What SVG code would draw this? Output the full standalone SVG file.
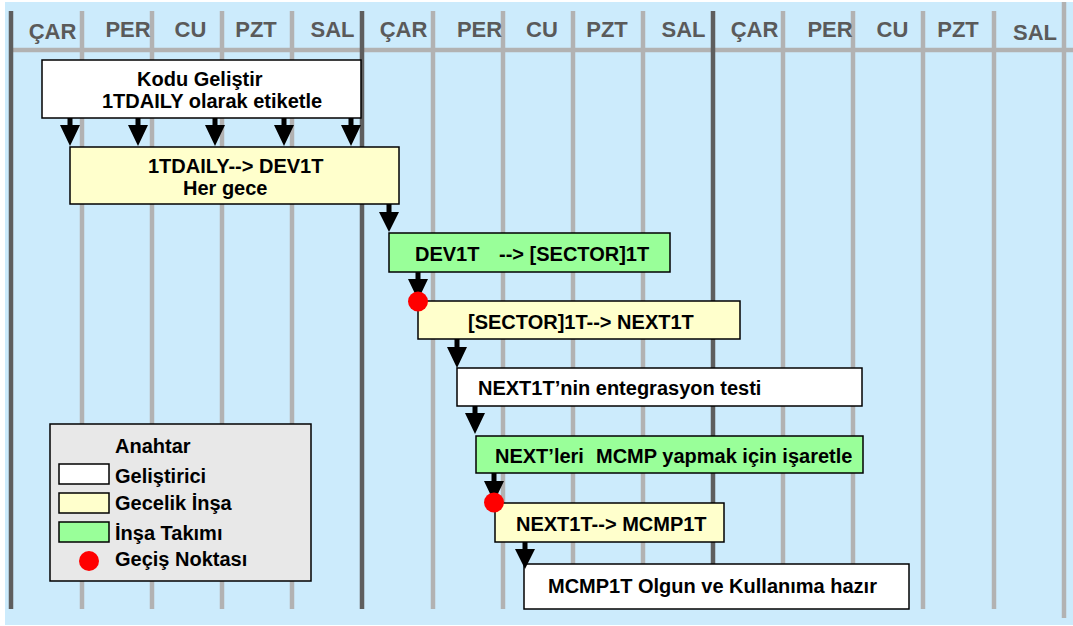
<svg xmlns="http://www.w3.org/2000/svg" width="1073" height="626" viewBox="0 0 1073 626">
<style>
.bg{fill:#CCEBFC}
.dk{stroke:#5E5E5E;stroke-width:4.5;fill:none}
.gr{stroke:#B2B2B2;stroke-width:4.5;fill:none}
.hd{font-family:"Liberation Sans",Arial,sans-serif;font-weight:bold;font-size:22px;fill:#5A5A5A;text-anchor:middle}
.t{font-family:"Liberation Sans",Arial,sans-serif;font-weight:bold;font-size:20px;fill:#000}
.box{stroke:#000;stroke-width:1.5}
.w{fill:#FFFFFF}
.y{fill:#FFFFCC}
.g{fill:#99FF99}
.lg{fill:#E8E8E8}
.dot{fill:#FF0000}
.arr{fill:#000}
</style>
<rect class="bg" x="5" y="2" width="1068" height="623"/>
<g id="grid">
<line class="gr" x1="13" y1="50" x2="1073" y2="50"/>
<line class="dk" x1="11" y1="11" x2="11" y2="609"/>
<line class="dk" x1="362" y1="11" x2="362" y2="609"/>
<line class="dk" x1="713" y1="11" x2="713" y2="609"/>
<line class="gr" x1="82" y1="11" x2="82" y2="609"/>
<line class="gr" x1="152" y1="11" x2="152" y2="609"/>
<line class="gr" x1="222" y1="11" x2="222" y2="609"/>
<line class="gr" x1="292" y1="11" x2="292" y2="609"/>
<line class="gr" x1="433" y1="11" x2="433" y2="609"/>
<line class="gr" x1="503" y1="11" x2="503" y2="609"/>
<line class="gr" x1="573" y1="11" x2="573" y2="609"/>
<line class="gr" x1="643" y1="11" x2="643" y2="609"/>
<line class="gr" x1="783" y1="11" x2="783" y2="609"/>
<line class="gr" x1="853" y1="11" x2="853" y2="609"/>
<line class="gr" x1="923" y1="11" x2="923" y2="609"/>
<line class="gr" x1="994" y1="11" x2="994" y2="609"/>
<line class="gr" x1="1064" y1="2" x2="1064" y2="618"/>
</g>
<g id="days">
<text class="hd" x="52.5" y="39">ÇAR</text>
<text class="hd" x="128" y="37">PER</text>
<text class="hd" x="190.5" y="37">CU</text>
<text class="hd" x="256" y="37">PZT</text>
<text class="hd" x="332.5" y="37">SAL</text>
<text class="hd" x="403.5" y="37">ÇAR</text>
<text class="hd" x="479.5" y="37">PER</text>
<text class="hd" x="542" y="37">CU</text>
<text class="hd" x="607" y="37">PZT</text>
<text class="hd" x="683.5" y="37">SAL</text>
<text class="hd" x="754.5" y="37">ÇAR</text>
<text class="hd" x="830" y="37">PER</text>
<text class="hd" x="892.5" y="37">CU</text>
<text class="hd" x="958" y="37">PZT</text>
<text class="hd" x="1035" y="40">SAL</text>
</g>
<g id="n1">
<rect class="box w" x="42" y="60" width="319" height="58"/>
<text class="t" x="137" y="86">Kodu Geliştir</text>
<text class="t" x="102" y="108">1TDAILY olarak etiketle</text>
</g>
<g id="n2">
<rect class="box y" x="70" y="147" width="329" height="57"/>
<text class="t" x="148" y="173">1TDAILY--&gt; DEV1T</text>
<text class="t" x="183" y="195">Her gece</text>
</g>
<g id="n3">
<rect class="box g" x="389" y="233" width="281" height="39"/>
<text class="t" x="415" y="261">DEV1T</text>
<text class="t" x="499" y="261">--&gt; [SECTOR]1T</text>
</g>
<g id="n4">
<rect class="box y" x="418" y="301" width="322" height="38"/>
<text class="t" x="468" y="329">[SECTOR]1T--&gt; NEXT1T</text>
</g>
<g id="n5">
<rect class="box w" x="457" y="368" width="405" height="38"/>
<text class="t" x="478" y="395">NEXT1T’nin entegrasyon testi</text>
</g>
<g id="n6">
<rect class="box g" x="476" y="436" width="387" height="37"/>
<text class="t" x="495" y="463">NEXT’leri</text>
<text class="t" x="596" y="463">MCMP yapmak için işaretle</text>
</g>
<g id="n7">
<rect class="box y" x="495" y="503" width="229" height="39"/>
<text class="t" x="516" y="531">NEXT1T--&gt; MCMP1T</text>
</g>
<g id="n8">
<rect class="box w" x="524" y="564" width="385" height="45"/>
<text class="t" x="548" y="593">MCMP1T Olgun ve Kullanıma hazır</text>
</g>
<g id="connectors">
<path class="arr" d="M67.5 118h5v7h7.5l-10 21l-10-21h7.5z"/>
<path class="arr" d="M135.5 118h5v7h7.5l-10 21l-10-21h7.5z"/>
<path class="arr" d="M212.5 118h5v7h7.5l-10 21l-10-21h7.5z"/>
<path class="arr" d="M281.5 118h5v7h7.5l-10 21l-10-21h7.5z"/>
<path class="arr" d="M348.5 118h5v7h7.5l-10 21l-10-21h7.5z"/>
<path class="arr" d="M386.5 204h5v8h7.5l-10 20l-10-20h7.5z"/>
<path class="arr" d="M415.5 272h5v7h7.5l-10 21l-10-21h7.5z"/>
<path class="arr" d="M454.5 339h5v8h7.5l-10 21l-10-21h7.5z"/>
<path class="arr" d="M472.5 406h5v7h7.5l-10 21l-10-21h7.5z"/>
<path class="arr" d="M491.5 473h5v8h7.5l-10 21l-10-21h7.5z"/>
<path class="arr" d="M522.5 542h5v7h7.5l-10 20l-10-20h7.5z"/>
</g>
<g id="gate1"><circle class="dot" cx="418" cy="301.5" r="10"/></g>
<g id="gate2"><circle class="dot" cx="494" cy="502.5" r="10"/></g>
<g id="legend">
<rect class="box lg" x="50" y="424" width="261" height="157"/>
<text class="t" x="115" y="453">Anahtar</text>
<rect class="box w" x="59" y="464" width="50" height="20"/>
<text class="t" x="115" y="483">Geliştirici</text>
<rect class="box y" x="59" y="493" width="50" height="20"/>
<text class="t" x="115" y="510">Gecelik İnşa</text>
<rect class="box g" x="59" y="522" width="50" height="20"/>
<text class="t" x="115" y="540">İnşa Takımı</text>
<circle class="dot" cx="89" cy="561" r="10"/>
<text class="t" x="115" y="566">Geçiş Noktası</text>
</g>
</svg>
